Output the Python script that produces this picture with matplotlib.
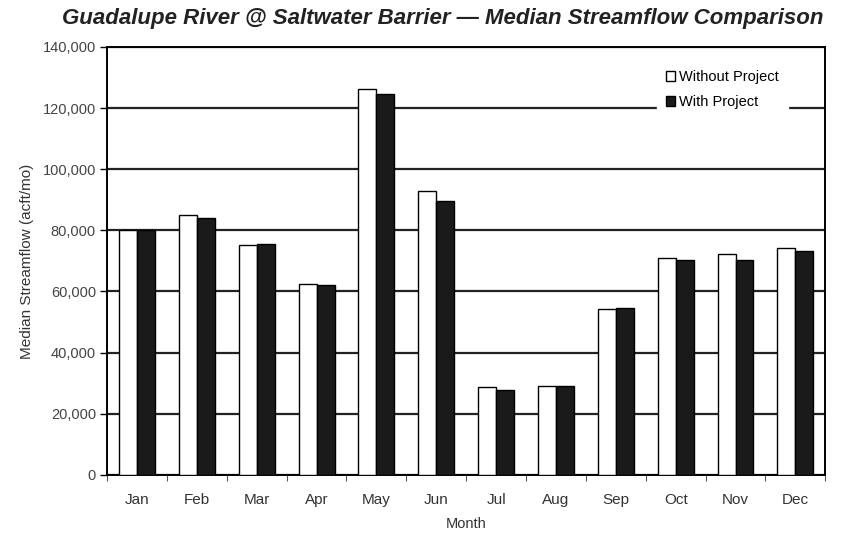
import matplotlib

matplotlib.use("Agg")

import matplotlib.pyplot as plt
import matplotlib.ticker as mticker
import numpy as np

MONTHS = ["Jan", "Feb", "Mar", "Apr", "May", "Jun",
          "Jul", "Aug", "Sep", "Oct", "Nov", "Dec"]
WITHOUT_PROJECT = [80000, 85000, 75300, 62500, 126300, 92800,
                   28700, 29100, 54400, 71000, 72400, 74200]
WITH_PROJECT = [80000, 84000, 75500, 62200, 124600, 89700,
                27800, 29200, 54500, 70300, 70200, 73300]

plt.rcParams["font.family"] = ["Liberation Sans", "DejaVu Sans"]

fig = plt.figure(figsize=(8.43, 5.33), dpi=100)
ax = fig.add_axes([0.127, 0.109, 0.852, 0.803])

x = np.arange(len(MONTHS))
width = 0.3
ax.bar(x - width / 2, WITHOUT_PROJECT, width, color="white", edgecolor="black",
       lw=1.0, label="Without Project", zorder=3)
ax.bar(x + width / 2, WITH_PROJECT, width, color="#1a1a1a", edgecolor="black",
       lw=1.0, label="With Project", zorder=3)

ax.set_xlim(-0.5, len(MONTHS) - 0.5)
ax.set_ylim(0, 140000)
ax.yaxis.set_major_locator(mticker.MultipleLocator(20000))
ax.yaxis.set_major_formatter(mticker.FuncFormatter(lambda v, _: f"{v:,.0f}"))
ax.grid(axis="y", color="#222222", lw=1.6, zorder=1)

ax.set_xticks(x)
ax.set_xticklabels(MONTHS)
ax.set_xticks(np.arange(-0.5, len(MONTHS)), minor=True)
ax.tick_params(axis="x", which="major", length=0, pad=13, labelsize=11, labelcolor="#333333")
ax.tick_params(axis="x", which="minor", length=4, width=0.8, color="#555555")
ax.tick_params(axis="y", length=5, width=1.0, pad=3, labelsize=10.5, labelcolor="#444444")

for spine in ax.spines.values():
    spine.set_color("black")
    spine.set_linewidth(1.4)

ax.set_xlabel("Month", fontsize=10.5, color="#333333", labelpad=7)
ax.set_ylabel("Median Streamflow (acft/mo)", fontsize=11, color="#333333", labelpad=6)

leg = ax.legend(loc="upper right", bbox_to_anchor=(0.958, 0.983), frameon=True,
                fontsize=10.5, handlelength=0.6, handleheight=0.6, handletextpad=0.3,
                borderpad=0.6, labelspacing=0.75, fancybox=False)
leg.get_frame().set_edgecolor("white")
leg.get_frame().set_alpha(1.0)
leg.set_zorder(5)

fig.text(0.525, 0.966, "Guadalupe River @ Saltwater Barrier \u2014 Median Streamflow Comparison",
         ha="center", va="center", fontsize=16, fontweight="bold", style="italic",
         color="#222222")

fig.savefig("out.png", dpi=100)
